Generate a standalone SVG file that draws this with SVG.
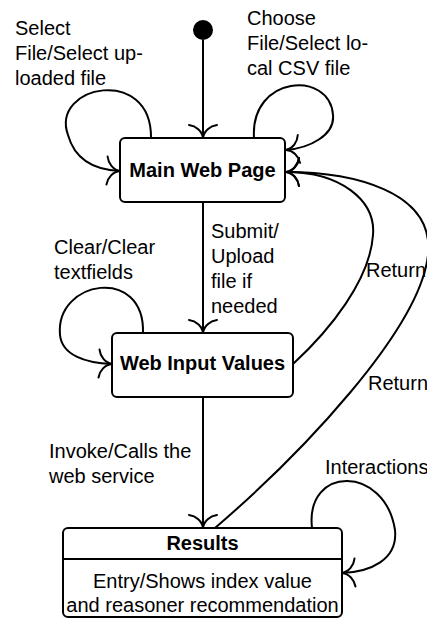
<svg xmlns="http://www.w3.org/2000/svg" width="427" height="619" viewBox="0 0 427 619">
  <defs>
    <style>
      .node rect { fill: #fff; stroke: #000; stroke-width: 2; }
      .title { font-family: "Liberation Sans", Arial, sans-serif; font-size: 20px; font-weight: bold; text-anchor: middle; fill: #000; }
      .lbl { font-family: "Liberation Sans", Arial, sans-serif; font-size: 20px; fill: #000; }
      .ctr { text-anchor: middle; }
      .edge { fill: none; stroke: #000; stroke-width: 2; marker-end: url(#to); }
    </style>
    <marker id="to" viewBox="-16 -16 18 32" refX="0" refY="0" markerWidth="18" markerHeight="32" markerUnits="userSpaceOnUse" orient="auto" overflow="visible">
      <path d="M -13,-14 C -12,-7 -7,-1 0,0 C -7,1 -12,7 -13,14" fill="none" stroke="#000" stroke-width="2" stroke-linecap="round"/>
    </marker>
  </defs>

  <g id="initial">
    <circle cx="203" cy="30" r="10" fill="#000"/>
  </g>

  <g id="main-web-page" class="node">
    <rect x="120" y="138" width="165" height="64" rx="5"/>
    <text class="title" x="202.5" y="177">Main Web Page</text>
  </g>

  <g id="web-input-values" class="node">
    <rect x="112" y="333" width="181" height="64" rx="5"/>
    <text class="title" x="202.5" y="370">Web Input Values</text>
  </g>

  <g id="results" class="node">
    <rect x="63" y="528" width="279" height="89" rx="5"/>
    <line x1="63" y1="559" x2="342" y2="559" stroke="#000" stroke-width="2"/>
    <text class="title" x="202.5" y="550">Results</text>
    <text class="lbl ctr" x="202.5" y="588">Entry/Shows index value</text>
    <text class="lbl ctr" x="202.5" y="612">and reasoner recommendation</text>
  </g>

  <g id="connectors">
    <path class="edge" d="M 203,40 L 203,138"/>
    <path class="edge" d="M 151,138 C 152,65 50,85 68,135 C 75,160 95,170 120,171"/>
    <path class="edge" d="M 254,138 C 250,75 330,70 333,115 C 335,135 310,148 286,150"/>
    <path class="edge" d="M 203,202 L 203,333"/>
    <path class="edge" d="M 143,333 C 145,265 55,280 60,335 C 62,355 85,363 112,364"/>
    <path class="edge" d="M 293,364 C 330,330 370,280 373,235 C 376,200 340,172 286,172"/>
    <path class="edge" d="M 215,528 C 300,455 420,330 428,255 C 435,190 350,172 286,172"/>
    <path class="edge" d="M 203,397 L 203,528"/>
    <path class="edge" d="M 312,528 C 305,465 385,465 395,530 C 398,560 370,572 342,573"/>
  </g>

  <g id="labels">
    <text class="lbl" x="15" y="35">Select</text>
    <text class="lbl" x="15" y="60">File/Select up-</text>
    <text class="lbl" x="15" y="85">loaded file</text>
    <text class="lbl" x="247" y="25">Choose</text>
    <text class="lbl" x="247" y="50">File/Select lo-</text>
    <text class="lbl" x="247" y="75">cal CSV file</text>
    <text class="lbl" x="211" y="238">Submit/</text>
    <text class="lbl" x="211" y="263">Upload</text>
    <text class="lbl" x="211" y="288">file if</text>
    <text class="lbl" x="211" y="313">needed</text>
    <text class="lbl" x="54" y="254">Clear/Clear</text>
    <text class="lbl" x="54" y="279">textfields</text>
    <text class="lbl" x="366" y="277">Return</text>
    <text class="lbl" x="368" y="390">Return</text>
    <text class="lbl" x="49" y="458">Invoke/Calls the</text>
    <text class="lbl" x="49" y="483">web service</text>
    <text class="lbl" x="325" y="474">Interactions</text>
  </g>
</svg>
